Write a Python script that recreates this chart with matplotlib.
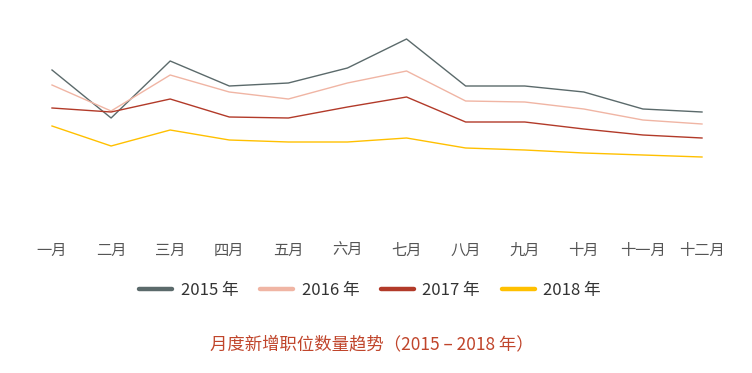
import matplotlib.pyplot as plt
from matplotlib.lines import Line2D

plt.rcParams['font.family'] = ['Noto Sans CJK SC', 'DejaVu Sans']

months = ['一月', '二月', '三月', '四月', '五月', '六月',
          '七月', '八月', '九月', '十月', '十一月', '十二月']
years = ['2015 年', '2016 年', '2017 年', '2018 年']

# monthly new positions (relative units)
jobs_2015 = [155, 107, 164, 139, 142, 157, 186, 139, 139, 133, 116, 113]
jobs_2016 = [140, 114, 150, 133, 126, 142, 154, 124, 123, 116, 105, 101]
jobs_2017 = [117, 113, 126, 108, 107, 118, 128, 103, 103, 96, 90, 87]
jobs_2018 = [99, 79, 95, 85, 83, 83, 87, 77, 75, 72, 70, 68]

colors = ['#5b6a6b', '#f0b5a4', '#b23a29', '#ffc000']
series = [jobs_2015, jobs_2016, jobs_2017, jobs_2018]

fig = plt.figure(figsize=(7.52, 3.73), dpi=100)
ax = fig.add_axes([52 / 752, 1 - 225 / 373, 650 / 752, 205 / 373])

x = range(len(months))
for vals, c in zip(series, colors):
    ax.plot(x, vals, color=c, linewidth=1.0, clip_on=False)

ax.set_xlim(0, 11)
ax.set_ylim(0, 205)
ax.set_xticks(list(x))
ax.set_xticklabels(months, fontsize=11, color='#555555')
ax.tick_params(axis='x', length=0, pad=12)
ax.set_yticks([])
for s in ax.spines.values():
    s.set_visible(False)

handles = [Line2D([0], [0], color=c, linewidth=3.2, solid_capstyle='round')
           for c in colors]
leg = fig.legend(handles, years, loc='center', bbox_to_anchor=(370 / 752, 1 - 290 / 373),
                 ncol=4, frameon=False, fontsize=12, handlelength=2.0,
                 columnspacing=1.3, handletextpad=0.5)
for t in leg.get_texts():
    t.set_color('#333333')

fig.text(372 / 752, 1 - 344 / 373, '月度新增职位数量趋势（2015 – 2018 年）',
         ha='center', va='center', fontsize=12.5, color='#c0452b')

fig.savefig('out.png', dpi=100)
